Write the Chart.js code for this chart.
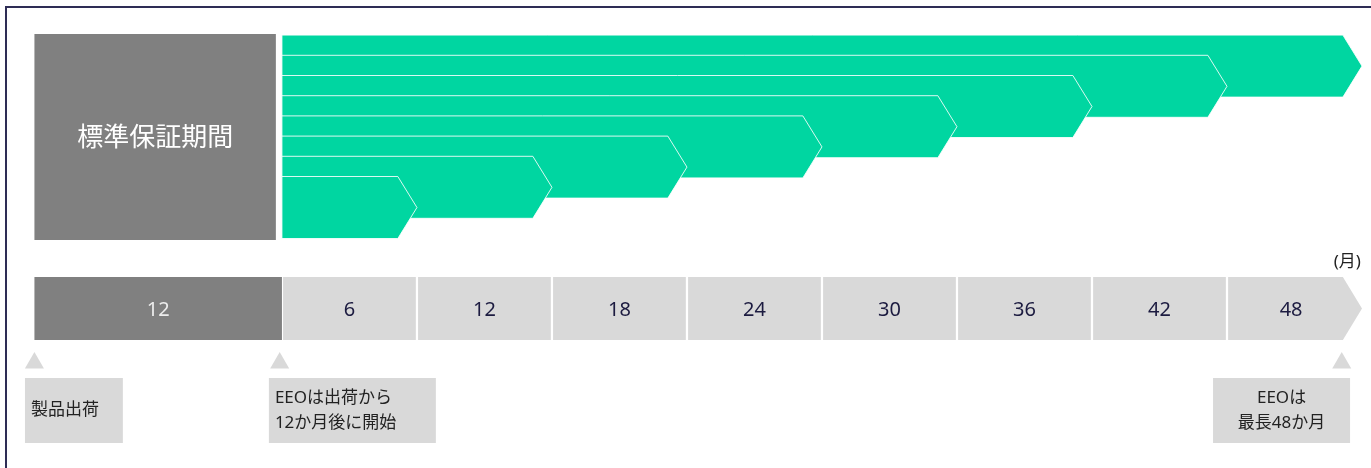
<!DOCTYPE html>
<html lang="ja">
<head>
<meta charset="utf-8">
<title>EEO 保証期間</title>
<script src="https://cdn.jsdelivr.net/npm/chart.js@4.4.1/dist/chart.umd.min.js"></script>
<style>
  html, body { margin: 0; padding: 0; background: #fff; overflow: hidden; }
  #frame {
    position: absolute; left: 5px; top: 6px; width: 1400px; height: 500px;
    border-left: 2px solid #2e2d55; border-top: 2px solid #2e2d55;
  }
  #wrap { position: absolute; left: 0; top: 0; width: 1371px; height: 468px; }
</style>
</head>
<body>
<div id="frame"></div>
<div id="wrap"><canvas id="chart" width="1371" height="468"></canvas></div>
<script>
// Months covered by each EEO extension arrow (shortest first)
const EEO_MONTHS = [6, 12, 18, 24, 30, 36, 42, 48];
const TIMELINE_LABELS = ['6', '12', '18', '24', '30', '36', '42', '48'];
const STANDARD_LABEL = '12';
const STANDARD_TITLE = '標準保証期間';
const UNIT_LABEL = '(月)';
const CALLOUT_TEXTS = [
  ['製品出荷'],
  ['EEOは出荷から', '12か月後に開始'],
  ['EEOは', '最長48か月'],
];

// Layout (x in months, y in canvas rows)
const X_MIN = -12.53;
const X_MAX = 48.4;
const STD_START = -11;        // left edge of the standard warranty block
const STD_TITLE_END = -0.27;
const TIP = 0.85;             // arrow head length, months
const ARROW_TOP = 176.5;
const ARROW_STEP = 20.2;
const ARROW_H = 62;
const TITLE_TOP = 34;
const TITLE_BOTTOM = 240;
const BAR_TOP = 277;
const BAR_BOTTOM = 340;
const GAP = 0.05;
const MARKER_Y = 363;
const MARKER_MONTHS = [-11, -0.1, 47.1];
const CALLOUT_TOP = 378;
const CALLOUT_BOTTOM = 443;
const CALLOUT_SPANS = [[-11.42, -7.07], [-0.58, 6.84], [41.38, 47.47]];
const CALLOUT_ALIGN = ['left', 'left', 'center'];

const GREEN = '#00D6A1';
const DARK_GREY = '#808080';
const LIGHT_GREY = '#D9D9D9';
const NAVY = '#1C1B40';
const FONT = "'Noto Sans', 'Noto Sans CJK JP', sans-serif";

function rect(x0, x1, y0, y1) {
  return [
    { x: x0, y: y0 }, { x: x1, y: y0 }, { x: x1, y: y1 },
    { x: x0, y: y1 }, { x: x0, y: y0 },
  ];
}

function arrow(x0, x1, y0, y1) {
  const mid = (y0 + y1) / 2;
  return [
    { x: x0, y: y0 }, { x: x1 - TIP, y: y0 }, { x: x1, y: mid },
    { x: x1 - TIP, y: y1 }, { x: x0, y: y1 }, { x: x0, y: y0 },
  ];
}

function shape(points, color, border) {
  return {
    data: points,
    showLine: true,
    fill: 'shape',
    backgroundColor: color,
    borderColor: border || 'transparent',
    borderWidth: border ? 1 : 0,
    pointRadius: 0,
    tension: 0,
  };
}

// dataset 0 is painted last, so the 6-month arrow sits on top
const arrowSets = EEO_MONTHS.map((m, i) => {
  const top = ARROW_TOP - i * ARROW_STEP;
  return shape(arrow(0, m, top, top + ARROW_H), GREEN, 'rgba(255,255,255,0.85)');
});

const timelineSets = EEO_MONTHS.map((m, i) => {
  const pts = i === EEO_MONTHS.length - 1
    ? arrow(m - 6 + GAP, m, BAR_TOP, BAR_BOTTOM)
    : rect(m - 6 + GAP, m - GAP, BAR_TOP, BAR_BOTTOM);
  return shape(pts, LIGHT_GREY);
});

const calloutSets = CALLOUT_SPANS.map(([a, b]) =>
  shape(rect(a, b, CALLOUT_TOP, CALLOUT_BOTTOM), LIGHT_GREY));

const datasets = [
  ...arrowSets,
  shape(rect(STD_START, STD_TITLE_END, TITLE_TOP, TITLE_BOTTOM), DARK_GREY),
  shape(rect(STD_START, 0, BAR_TOP, BAR_BOTTOM), DARK_GREY),
  ...timelineSets,
  ...calloutSets,
  {
    data: MARKER_MONTHS.map((m) => ({ x: m, y: MARKER_Y })),
    showLine: false,
    pointStyle: 'triangle',
    pointRadius: 11,
    backgroundColor: LIGHT_GREY,
    borderColor: 'transparent',
    borderWidth: 0,
  },
];

const textPlugin = {
  id: 'diagramText',
  afterDatasetsDraw(chart) {
    const { ctx, scales: { x, y } } = chart;
    ctx.save();
    ctx.textBaseline = 'middle';

    // standard warranty title
    ctx.fillStyle = '#FFFFFF';
    ctx.textAlign = 'center';
    ctx.font = `26px ${FONT}`;
    ctx.fillText(STANDARD_TITLE, x.getPixelForValue((STD_START + STD_TITLE_END) / 2),
      y.getPixelForValue((TITLE_TOP + TITLE_BOTTOM) / 2 + 2));

    // timeline numbers
    const barMid = y.getPixelForValue((BAR_TOP + BAR_BOTTOM) / 2 + 2);
    ctx.font = `20px ${FONT}`;
    ctx.fillStyle = '#EDEDED';
    ctx.fillText(STANDARD_LABEL, x.getPixelForValue(STD_START / 2), barMid);
    ctx.fillStyle = NAVY;
    TIMELINE_LABELS.forEach((label, i) => {
      const last = i === TIMELINE_LABELS.length - 1;
      ctx.fillText(label, x.getPixelForValue(EEO_MONTHS[i] - (last ? 3.15 : 3)), barMid);
    });

    // unit
    ctx.font = `17px ${FONT}`;
    ctx.fillStyle = '#222222';
    ctx.textAlign = 'right';
    ctx.fillText(UNIT_LABEL, x.getPixelForValue(47.95), y.getPixelForValue(262));

    // callouts
    ctx.fillStyle = '#222222';
    CALLOUT_TEXTS.forEach((lines, i) => {
      const [a, b] = CALLOUT_SPANS[i];
      const align = CALLOUT_ALIGN[i];
      ctx.textAlign = align;
      const tx = align === 'center'
        ? x.getPixelForValue((a + b) / 2)
        : x.getPixelForValue(a) + 6;
      const mid = (CALLOUT_TOP + CALLOUT_BOTTOM) / 2;
      lines.forEach((line, k) => {
        const ty = mid + (k - (lines.length - 1) / 2) * 25;
        ctx.fillText(line, tx, y.getPixelForValue(ty));
      });
    });
    ctx.restore();
  },
};

new Chart(document.getElementById('chart'), {
  type: 'scatter',
  data: { datasets },
  options: {
    responsive: false,
    animation: false,
    events: [],
    layout: { padding: 0, autoPadding: false },
    scales: {
      x: { type: 'linear', min: X_MIN, max: X_MAX, display: false },
      y: { type: 'linear', min: 0, max: 468, reverse: true, display: false },
    },
    plugins: {
      legend: { display: false },
      tooltip: { enabled: false },
    },
  },
  plugins: [textPlugin],
});
</script>
</body>
</html>
